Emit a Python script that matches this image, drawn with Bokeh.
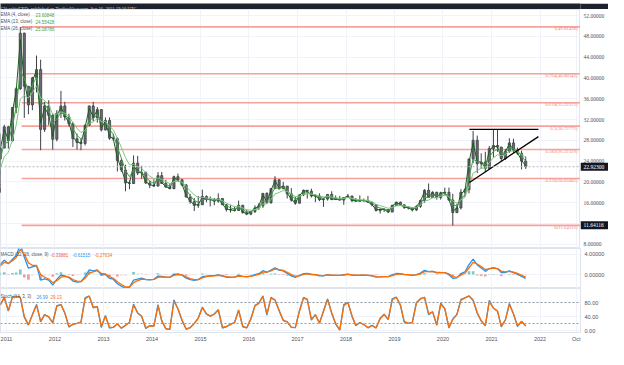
import numpy as np
import pandas as pd
from bokeh.plotting import figure
from bokeh.layouts import column, row
from bokeh.models import FixedTicker, Label, Span, Range1d, PrintfTickFormatter
from bokeh.embed import file_html
from bokeh.resources import INLINE

# ---------------- data (monthly silver) ----------------
first_month = "2010-06-01"
closes = [18.7, 18.0, 19.5, 21.8, 24.4, 26.5, 30.6,
          27.9, 34.3, 37.9, 48.6, 38.4, 34.8, 40.0, 41.6, 30.1, 34.6, 32.8, 28.2,
          33.2, 34.6, 32.5, 31.2, 28.3, 27.6, 27.4, 30.9, 34.6, 32.3, 33.9, 30.0,
          31.8, 28.4, 28.3, 24.1, 22.3, 19.8, 19.7, 23.6, 21.7, 21.8, 19.8, 19.4,
          19.2, 21.2, 19.7, 19.0, 18.7, 21.0, 20.4, 19.4, 17.1, 16.2, 15.5, 15.6,
          17.2, 16.6, 16.6, 16.3, 16.8, 15.6, 14.7, 14.6, 14.5, 15.5, 14.1, 13.8,
          14.3, 15.0, 15.4, 17.8, 16.0, 18.7, 20.4, 18.7, 19.2, 17.7, 16.5, 15.9,
          17.5, 18.4, 18.2, 17.3, 17.3, 16.6, 16.7, 17.6, 16.6, 16.7, 16.5, 17.0,
          17.3, 16.4, 16.3, 16.4, 16.4, 16.1, 15.6, 14.5, 14.7, 14.7, 14.2, 15.5,
          16.1, 15.6, 15.1, 15.0, 14.6, 15.3, 16.4, 18.4, 17.0, 18.0, 17.0, 17.9,
          18.0, 16.5, 14.1, 15.0, 18.0, 18.5, 24.4, 28.0, 23.5, 23.8, 22.6, 26.4,
          27.0, 26.7, 24.5, 25.9, 27.5, 26.1, 25.5, 24.0, 22.9]
highs = [19.3, 18.7, 19.6, 22.1, 24.9, 29.3, 31.0,
         30.8, 34.4, 38.2, 49.8, 48.7, 38.4, 40.2, 44.3, 43.5, 35.4, 35.7, 33.2,
         33.8, 37.5, 35.4, 33.1, 31.5, 29.3, 28.4, 31.0, 34.7, 35.4, 34.4, 34.0,
         32.4, 32.4, 29.2, 28.6, 24.5, 23.3, 20.3, 25.1, 25.0, 23.1, 22.0, 20.3,
         20.5, 21.9, 21.9, 20.4, 19.7, 21.2, 21.6, 20.6, 19.6, 17.7, 16.9, 17.3,
         18.5, 17.4, 17.2, 16.9, 17.8, 16.9, 15.8, 15.6, 15.3, 16.4, 15.6, 14.7,
         14.4, 15.5, 15.9, 17.8, 18.0, 18.8, 21.1, 20.5, 20.0, 19.2, 18.8, 17.2,
         17.6, 18.5, 18.4, 18.7, 17.6, 17.8, 16.9, 17.6, 18.2, 17.4, 17.3, 17.1,
         17.7, 17.3, 16.9, 17.4, 16.8, 17.3, 16.1, 15.6, 14.9, 14.9, 14.7, 15.6,
         16.2, 16.2, 15.6, 15.3, 15.0, 15.5, 16.6, 18.6, 19.7, 18.2, 18.1, 18.1,
         18.9, 18.9, 17.7, 15.8, 18.6, 18.8, 24.5, 29.8, 28.9, 25.5, 25.8, 26.9,
         30.1, 30.0, 26.7, 26.3, 28.4, 28.3, 26.6, 26.0, 24.9]
lows = [17.6, 17.3, 17.6, 19.4, 21.6, 24.3, 26.7,
        26.4, 27.8, 33.2, 37.7, 32.3, 33.0, 33.8, 37.2, 26.1, 29.6, 30.9, 26.2,
        27.8, 32.3, 31.8, 30.7, 26.7, 26.2, 26.1, 27.0, 30.7, 31.6, 31.4, 29.7,
        29.9, 28.1, 27.9, 22.0, 21.9, 18.2, 18.6, 19.6, 21.3, 20.6, 19.6, 18.8,
        19.0, 19.1, 19.6, 18.9, 18.6, 18.6, 20.1, 19.2, 17.0, 15.8, 14.4, 15.0,
        15.6, 16.1, 15.3, 15.5, 16.0, 15.6, 14.3, 14.1, 14.3, 14.5, 13.9, 13.6,
        13.6, 14.0, 14.6, 15.0, 15.8, 15.8, 18.7, 18.5, 18.6, 16.8, 16.2, 15.6,
        15.9, 17.3, 16.8, 17.0, 16.1, 16.3, 15.2, 16.4, 16.5, 16.6, 16.6, 15.6,
        16.9, 16.1, 16.2, 16.2, 16.2, 16.0, 15.3, 14.3, 13.9, 14.2, 14.0, 14.2,
        15.4, 15.6, 14.8, 14.7, 14.3, 14.4, 15.0, 16.0, 16.9, 17.0, 16.6, 16.6,
        17.4, 16.4, 11.6, 14.0, 14.7, 17.1, 17.8, 23.6, 21.7, 22.6, 21.9, 22.6,
        24.7, 25.8, 24.0, 24.2, 25.6, 25.6, 25.2, 22.4, 22.5]

fib_ratios = ["1", "0.764", "0.618", "0.5", "0.382", "0.236", "0"]
fib_levels = [49.81428, 40.80542, 35.22215, 30.72772, 26.22329, 20.65082, 11.64116]
fib_start = "2011-04-25"
last_price = 22.923
low_price = 11.64116
axis_badges = [last_price, low_price]

tri_dates = ["2020-07-18", "2021-12-20"]
tri_top = [30.1, 30.1]
tri_bottom = [19.9, 28.7]

ema_periods = [4, 13, 26]
ema_values_text = ["23.60848", "24.55428", "25.08786"]
macd_values_text = ["-0.33881", "-0.61515", "-0.27634"]
stoch_values_text = ["26.99", "29.13"]
stoch_levels = [80, 20]

price_ticks = [8, 12, 16, 20, 24, 28, 32, 36, 40, 44, 48, 52]
macd_ticks = [0, 4]
stoch_ticks = [0, 40, 80]
tick_dates = ["2011-01-01", "2012-01-01", "2013-01-01", "2014-01-01", "2015-01-01", "2016-01-01",
              "2017-01-01", "2018-01-01", "2019-01-01", "2020-01-01", "2021-01-01", "2022-01-01",
              "2022-10-01"]
tick_labels = ["2011", "2012", "2013", "2014", "2015", "2016", "2017", "2018", "2019", "2020",
               "2021", "2022", "Oct"]

header_text = "CVecchioFXDe published on TradingView.com, Sep 16, 2021 19:50 UTC"

# ---------------- derived ----------------
def ms(d):
    return pd.Timestamp(d).value // 10**6

months = pd.date_range(first_month, periods=len(closes), freq="MS") + pd.Timedelta(days=14)
xs = np.array([m.value // 10**6 for m in months], dtype=float)
closes_a = np.array(closes)
opens_a = np.concatenate([[closes[0]], closes_a[:-1]])

def ema_monthly(vals, weeks):
    a_w = 2.0 / (weeks + 1)
    a = 1 - (1 - a_w) ** (52 / 12)
    out, e = [], vals[0]
    for v in vals:
        e = e + a * (v - e)
        out.append(e)
    return np.array(out)

emas = [ema_monthly(closes_a, n) for n in ema_periods]
macd = ema_monthly(closes_a, 12) - ema_monthly(closes_a, 26)
signal = ema_monthly(macd, 9)
hist = macd - signal

n_st = 3
raw = []
for i in range(len(closes)):
    lo = min(lows[max(0, i - n_st + 1):i + 1])
    hi = max(highs[max(0, i - n_st + 1):i + 1])
    raw.append(100 * (closes[i] - lo) / (hi - lo))
k_line = ema_monthly(np.array(raw), 3)
d_line = ema_monthly(k_line, 3)

hist_colors = []
for i, h in enumerate(hist):
    prev = hist[i - 1] if i else h
    if h >= 0:
        hist_colors.append("#26a69a" if h >= prev else "#b2dfdb")
    else:
        hist_colors.append("#ef5350" if h < prev else "#ffcdd2")

# ---------------- layout constants ----------------
YEAR_MS = 365.25 * 86400000
PX_YEAR = 48.5
T0 = ms("2011-01-01")
x_start = T0 - (14 - 8) / PX_YEAR * YEAR_MS
x_end = T0 + (588 - 14) / PX_YEAR * YEAR_MS
xr = Range1d(x_start, x_end)
W = 608
RB = 28
DARK = "#1e222d"
GRID = "#f0f3fa"
AX_TXT = "#50535e"
FONT = "Liberation Sans"
tick_ms = [ms(d) for d in tick_dates]

def style_axis(ax, size="5.5px"):
    ax.major_tick_line_color = None
    ax.minor_tick_line_color = None
    ax.major_tick_out = 0
    ax.axis_line_color = "#e0e3eb"
    ax.major_label_text_font_size = size
    ax.major_label_text_color = AX_TXT
    ax.major_label_text_font = FONT

def pane(height, y0, y1, ticks, fmt, show_x=False, width=W, right_axis=True):
    p = figure(width=width, height=height, x_range=xr, y_range=Range1d(y0, y1),
               toolbar_location=None, output_backend="svg",
               y_axis_location="right" if right_axis else None,
               x_axis_location="below" if show_x else None,
               min_border_left=0, min_border_right=RB if right_axis else 0, min_border_top=0,
               min_border_bottom=12 if show_x else 0)
    p.outline_line_color = "#e0e3eb"
    p.background_fill_color = "white"
    p.border_fill_color = "white"
    if right_axis:
        ax = p.yaxis[0]
        ax.ticker = FixedTicker(ticks=ticks)
        ax.formatter = PrintfTickFormatter(format=fmt)
        ax.major_label_standoff = 4
        style_axis(ax)
    p.ygrid.ticker = FixedTicker(ticks=ticks)
    p.xgrid.ticker = FixedTicker(ticks=tick_ms)
    p.xgrid.grid_line_color = GRID
    p.ygrid.grid_line_color = GRID
    if show_x:
        xa = p.xaxis[0]
        xa.ticker = FixedTicker(ticks=tick_ms)
        xa.major_label_overrides = {t: l for t, l in zip(tick_ms, tick_labels)}
        xa.major_label_standoff = 3
        style_axis(xa)
    return p

def txt(p, x, y, text, color, size="4.5px"):
    p.add_layout(Label(x=x, y=y, x_units="screen", y_units="screen", text=text,
                       text_color=color, text_font_size=size, text_font=FONT,
                       text_baseline="middle"))

# header
hdr = figure(width=W, height=9, x_range=(0, 1), y_range=(0, 1), toolbar_location=None,
             output_backend="svg", min_border=0)
hdr.axis.visible = False
hdr.grid.visible = False
hdr.outline_line_color = None
hdr.background_fill_color = DARK
hdr.border_fill_color = DARK
hdr.text(x=[0], y=[0.5], text=[header_text], text_color="#d1d4dc", text_font_size="4.6px",
         text_font=FONT, text_baseline="middle", text_align="left")

# price pane: ref y 17..256, 52 at ref y 23, 5.2 px / unit
PH = 239
pp = pane(PH, 52 - 233 / 5.2, 52 + 6 / 5.2, price_ticks, "%.5f", width=W - RB, right_axis=False)
fib_x0 = [ms(fib_start)] * len(fib_levels)
fib_x1 = [x_end] * len(fib_levels)
pp.segment(fib_x0, fib_levels, fib_x1, fib_levels, line_color="#f7a19a", line_width=1.6)
pp.text([x_end] * len(fib_levels), fib_levels,
        text=[f"{r}({v:.5f})" for r, v in zip(fib_ratios, fib_levels)],
        text_align="right", text_baseline="middle", x_offset=-3, y_offset=2,
        text_font_size="4.8px", text_color="#ef7f77", text_font=FONT)
pp.add_layout(Span(location=last_price, dimension="width", line_color="#b2b5be",
                   line_width=1, line_dash="2 2"))
pp.segment(xs, lows, xs, highs, line_color="#3d3f45", line_width=1)
pp.vbar(x=xs, width=16 * 86400000, top=np.maximum(opens_a, closes_a),
        bottom=np.minimum(opens_a, closes_a), fill_color="#6a6d75", line_color="#3d3f45",
        line_width=0.8)
ema_colors = ["#1b5e20", "#43a047", "#81c784"]
for e, c in zip(emas, ema_colors):
    pp.line(xs, e, line_color=c, line_width=1)
tx = [ms(d) for d in tri_dates]
pp.line(tx, tri_top, line_color="black", line_width=1.3)
pp.line(tx, tri_bottom, line_color="black", line_width=1.3)
for i, (n, v) in enumerate(zip(ema_periods, ema_values_text)):
    y = PH - 5 - 7 * i
    txt(pp, 0, y, f"EMA ({n}, close)", "#50535e")
    txt(pp, 35, y, v, "#43a047")

# price scale column (shares the price y-range)
side = figure(width=RB, height=PH, x_range=(0, 1), y_range=pp.y_range, toolbar_location=None,
              output_backend="svg", min_border=0)
side.axis.visible = False
side.grid.visible = False
side.outline_line_color = None
side.background_fill_color = "white"
side.border_fill_color = "white"
side.text(x=[0] * len(price_ticks), y=price_ticks, text=[f"{t:.5f}" for t in price_ticks],
          x_offset=3, text_align="left", text_baseline="middle", text_font_size="5.5px",
          text_color=AX_TXT, text_font=FONT)
side.rect(x=[0.5] * len(axis_badges), y=axis_badges, width=1, height=8, height_units="screen",
          fill_color="#131722", line_color=None)
side.text(x=[0] * len(axis_badges), y=axis_badges, text=[f"{b:.5f}" for b in axis_badges],
          x_offset=3, text_align="left", text_baseline="middle", text_font_size="5.5px",
          text_color="white", text_font=FONT)

# MACD pane: ref y 256..296, 0 at ref 282, 5.1 px / unit
pm = pane(40, -14 / 5.1, 26 / 5.1, macd_ticks, "%.5f")
pm.vbar(x=xs, width=20 * 86400000, top=hist, bottom=0, fill_color=hist_colors,
        line_color=None, fill_alpha=0.6)
pm.line(xs, macd, line_color="#2196f3", line_width=1.3)
pm.line(xs, signal, line_color="#ff6d00", line_width=1.3)
txt(pm, 0, 34, "MACD (12, 26, close, 9)", "#50535e")
for xv, v, c in zip([50, 72, 94], macd_values_text, ["#ef5350", "#2196f3", "#ff6d00"]):
    txt(pm, xv, 34, v, c)

# Stoch pane: ref y 296..340 frame, 0 at ref 338, 0.35 px / unit
ps = pane(56, -2 / 0.35, 42 / 0.35, stoch_ticks, "%.2f", show_x=True)
for lv in stoch_levels:
    ps.add_layout(Span(location=lv, dimension="width", line_color="#9598a1",
                       line_width=1, line_dash="2 2"))
ps.line(xs[n_st - 1:], k_line[n_st - 1:], line_color="#2196f3", line_width=1.3)
ps.line(xs[n_st - 1:], d_line[n_st - 1:], line_color="#ff6d00", line_width=1.3)
txt(ps, 0, 36, "Stoch (14, 3, 3)", "#50535e")
txt(ps, 36, 36, stoch_values_text[0], "#2196f3")
txt(ps, 50, 36, stoch_values_text[1], "#ff6d00")

# footer
ftr = figure(width=W, height=5, x_range=(0, 1), y_range=(0, 1), toolbar_location=None,
             output_backend="svg", min_border=0)
ftr.axis.visible = False
ftr.grid.visible = False
ftr.outline_line_color = None
ftr.background_fill_color = DARK
ftr.border_fill_color = DARK

layout = column(hdr, row(pp, side, spacing=0), pm, ps, ftr, spacing=0)
open("out.html", "w").write(file_html(layout, INLINE))
